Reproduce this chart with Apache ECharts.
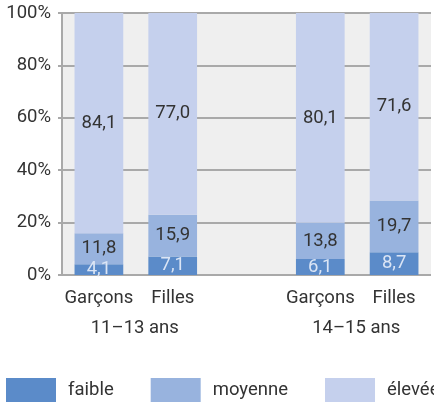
<!DOCTYPE html>
<html><head><meta charset="utf-8">
<script src="https://cdn.jsdelivr.net/npm/echarts@6/dist/echarts.min.js"></script>
<style>html,body{margin:0;padding:0;background:#fff}#c{width:434px;height:403px}</style>
</head><body><div id="c"></div>
<script>
var categories = ['Garçons', 'Filles', '', 'Garçons', 'Filles'];
var groups = ['11–13 ans', '14–15 ans'];
var faible = [4.1, 7.1, null, 6.1, 8.7];
var moyenne = [11.8, 15.9, null, 13.8, 19.7];
var elevee = [84.1, 77.0, null, 80.1, 71.6];
var yTicks = [0, 20, 40, 60, 80, 100];

var FONT = 'Roboto';
var FS = 18.5;
function fmt(p){ return p.value == null ? '' : p.value.toFixed(1).replace('.', ','); }
var chart = echarts.init(document.getElementById('c'), null, {renderer:'canvas'});
chart.setOption({
  animation: false,
  textStyle: {fontFamily: FONT},
  grid: {left: 62, right: -2, top: 13, bottom: 128, show: true, backgroundColor: '#efefef', borderWidth: 0},
  legend: {
    top: 378, left: 6, width: 800, itemWidth: 50, itemHeight: 24, itemGap: 37,
    icon: 'rect', padding: 0,
    textStyle: {fontFamily: FONT, fontSize: FS, color: '#333', padding: [0,0,0,7]},
    data: ['faible', 'moyenne', 'élevée']
  },
  xAxis: [{
    type: 'category', data: categories,
    axisLine: {show: false}, axisTick: {show: false},
    axisLabel: {margin: 14, fontSize: FS, color: '#333', fontFamily: FONT, interval: 0}
  }, {
    type: 'value', position: 'bottom', min: 0, max: 5, interval: 1,
    axisLine: {show: false}, axisTick: {show: false}, splitLine: {show: false},
    axisLabel: {margin: 44, fontSize: FS, color: '#333', fontFamily: FONT, padding: [0, 2, 0, 0],
      showMinLabel: true, showMaxLabel: true,
      formatter: function(v){ return v === 1 ? groups[0] : (v === 4 ? groups[1] : ''); }}
  }],
  yAxis: {
    type: 'value', min: yTicks[0], max: yTicks[yTicks.length-1], interval: 20,
    axisLine: {show: true, lineStyle: {color: '#a9a9a9', width: 2}},
    axisTick: {show: true, length: 4, lineStyle: {color: '#a9a9a9', width: 2}},
    splitLine: {lineStyle: {color: '#a9a9a9', width: 2}},
    axisLabel: {margin: 11, fontSize: FS, color: '#333', fontFamily: FONT, formatter: '{value}%'}
  },
  series: [
    {name: 'faible', type: 'bar', stack: 's', data: faible, barWidth: '66%',
      itemStyle: {color: '#5b8bc9'},
      label: {show: true, position: 'inside', formatter: fmt, fontSize: FS, color: '#dbe5f5', fontFamily: FONT}},
    {name: 'moyenne', type: 'bar', stack: 's', data: moyenne, barWidth: '66%',
      itemStyle: {color: '#98b3de'},
      label: {show: true, position: 'inside', formatter: fmt, fontSize: FS, color: '#333', fontFamily: FONT}},
    {name: 'élevée', type: 'bar', stack: 's', data: elevee, barWidth: '66%',
      itemStyle: {color: '#c5d0ed'},
      label: {show: true, position: 'inside', formatter: fmt, fontSize: FS, color: '#333', fontFamily: FONT}}
  ]
});
</script></body></html>
